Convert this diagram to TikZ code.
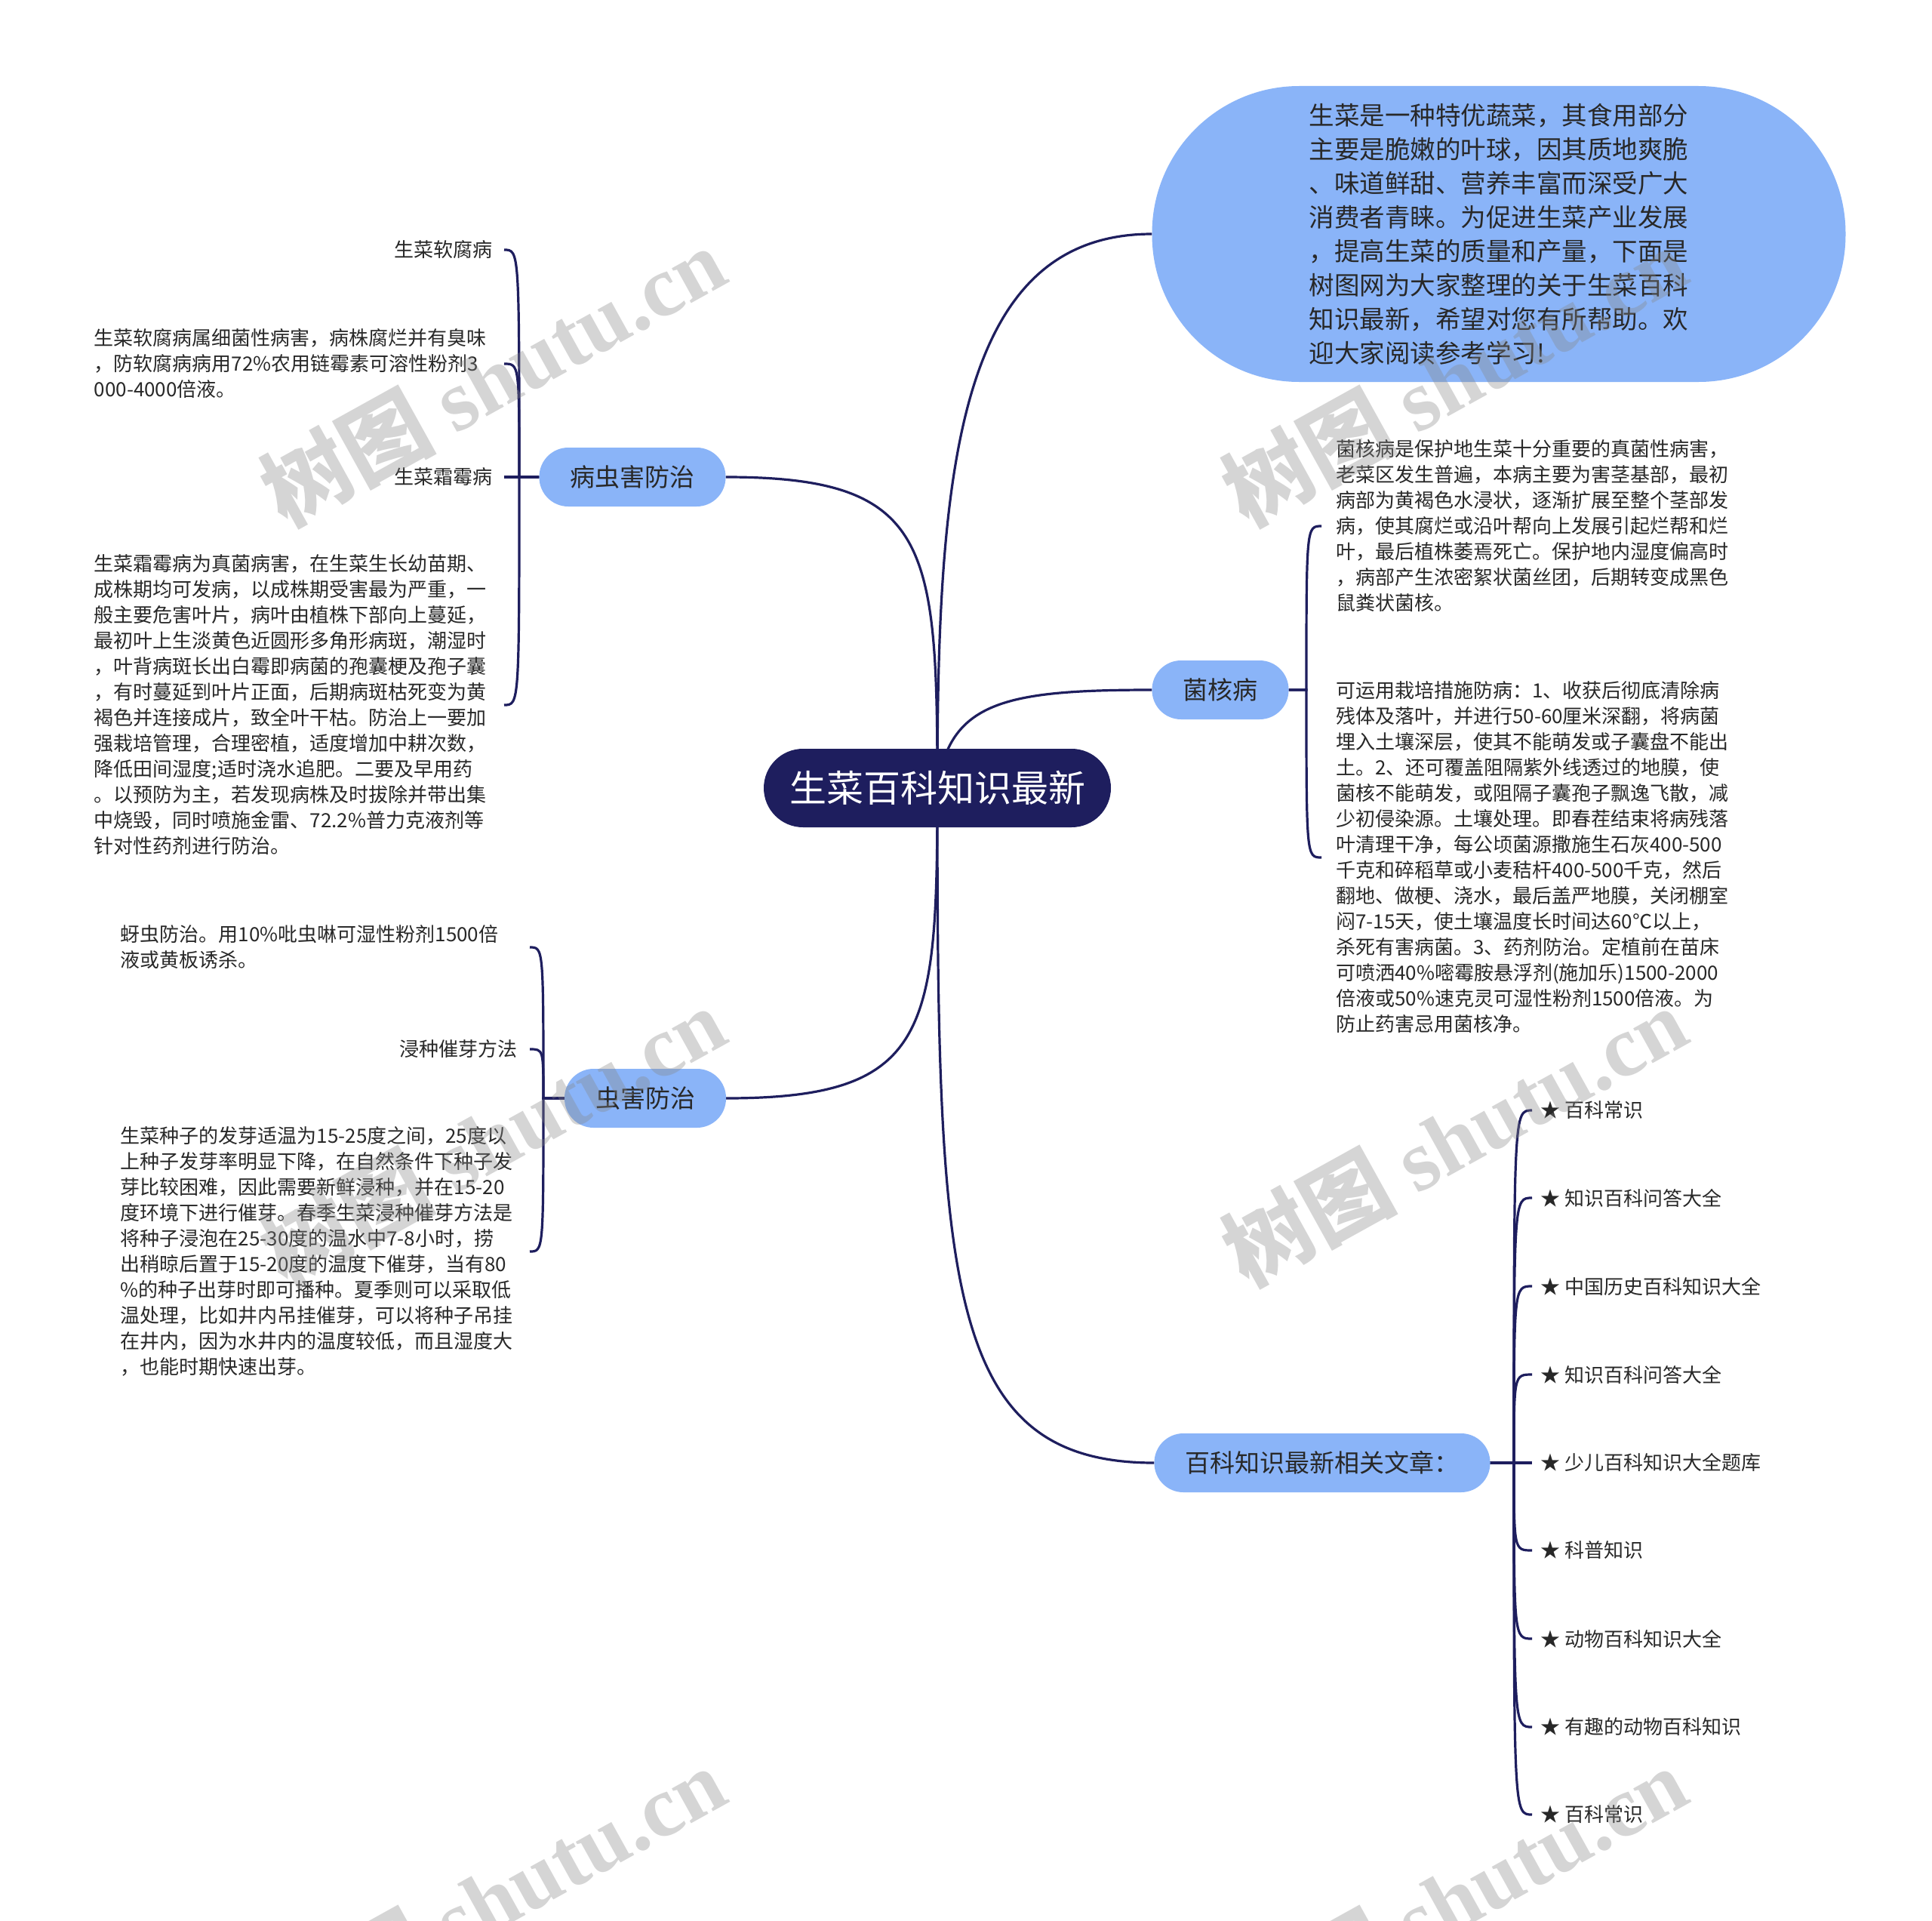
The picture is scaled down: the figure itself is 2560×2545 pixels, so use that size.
\documentclass[tikz,border=0pt]{standalone}
\usepackage{fontspec}
\setmainfont{Noto Sans CJK SC}
\newfontfamily\wmserif{Liberation Serif}
\usetikzlibrary{backgrounds}
\definecolor{navy}{RGB}{30,30,94}
\definecolor{lblue}{RGB}{138,180,248}
\definecolor{txt}{RGB}{40,40,40}
\definecolor{wm}{RGB}{135,135,135}
\tikzset{
  conn/.style={draw=navy, line width=3.2pt},
  mainnode/.style={fill=navy, text=white, rounded corners=52pt, minimum width=460pt, minimum height=104pt, font=\fontsize{49}{56}\selectfont},
  branch/.style={fill=lblue, text=txt, rounded corners=38.5pt, minimum height=78pt, inner xsep=41pt, font=\fontsize{33}{40}\selectfont},
  bignode/.style={fill=lblue, text=txt, rounded corners=195pt, minimum width=919pt, minimum height=392pt, align=left, font=\fontsize{33.5}{45}\selectfont},
  leaf/.style={text=txt, font=\fontsize{26}{34}\selectfont, align=left, inner ysep=4pt},
  lleaf/.style={leaf, anchor=east, inner xsep=15pt},
  lleafb/.style={leaf, anchor=east, inner xsep=16pt},
  rleaf/.style={leaf, anchor=west, inner xsep=19pt},
  item/.style={leaf, anchor=west, inner xsep=11pt},
  wmark/.style={text=wm, opacity=0.35, rotate=29, font=\fontsize{115}{120}\selectfont\bfseries}
}
\begin{document}
\begin{tikzpicture}[x=1pt,y=-1pt]
\begin{scope}[on background layer]
\fill[white] (0,0) rectangle (2560,2545);
\end{scope}
\useasboundingbox (0,0) rectangle (2560,2545);

% main and branch nodes
\node[mainnode] (c) at (1242,1044) {生菜百科知识最新};
\node[bignode] (b) at (1986,310) {生菜是一种特优蔬菜，其食用部分\\主要是脆嫩的叶球，因其质地爽脆\\、味道鲜甜、营养丰富而深受广大\\消费者青睐。为促进生菜产业发展\\，提高生菜的质量和产量，下面是\\树图网为大家整理的关于生菜百科\\知识最新，希望对您有所帮助。欢\\迎大家阅读参考学习!};
\node[branch] (bc) at (838,632) {病虫害防治};
\node[branch] (ch) at (855,1455) {虫害防治};
\node[branch] (j) at (1617,914) {菌核病};
\node[branch] (bk) at (1752,1938) {百科知识最新相关文章：};

\coordinate (j1) at (688,632);
\coordinate (j2) at (720,1455);
\coordinate (j3) at (1731,914);
\coordinate (j4) at (2006,1938);

% leaves of 病虫害防治
\node[lleaf] (c1) at (668,331) {生菜软腐病};
\node[lleaf, text width=528pt] (c2) at (668,482) {生菜软腐病属细菌性病害，病株腐烂并有臭味\\，防软腐病病用72\%农用链霉素可溶性粉剂3\\000-4000倍液。};
\node[lleaf] (c3) at (668,632) {生菜霜霉病};
\node[lleaf, text width=528pt] (c4) at (668,934) {生菜霜霉病为真菌病害，在生菜生长幼苗期、\\成株期均可发病，以成株期受害最为严重，一\\般主要危害叶片，病叶由植株下部向上蔓延，\\最初叶上生淡黄色近圆形多角形病斑，潮湿时\\，叶背病斑长出白霉即病菌的孢囊梗及孢子囊\\，有时蔓延到叶片正面，后期病斑枯死变为黄\\褐色并连接成片，致全叶干枯。防治上一要加\\强栽培管理，合理密植，适度增加中耕次数，\\降低田间湿度;适时浇水追肥。二要及早用药\\。以预防为主，若发现病株及时拔除并带出集\\中烧毁，同时喷施金雷、72.2\%普力克液剂等\\针对性药剂进行防治。};

% leaves of 虫害防治
\node[lleafb, text width=526pt] (d1) at (702,1255) {蚜虫防治。用10\%吡虫啉可湿性粉剂1500倍\\液或黄板诱杀。};
\node[lleafb] (d2) at (702,1390) {浸种催芽方法};
\node[lleafb, text width=526pt] (d3) at (702,1658) {生菜种子的发芽适温为15-25度之间，25度以\\上种子发芽率明显下降，在自然条件下种子发\\芽比较困难，因此需要新鲜浸种，并在15-20\\度环境下进行催芽。春季生菜浸种催芽方法是\\将种子浸泡在25-30度的温水中7-8小时，捞\\出稍晾后置于15-20度的温度下催芽，当有80\\\%的种子出芽时即可播种。夏季则可以采取低\\温处理，比如井内吊挂催芽，可以将种子吊挂\\在井内，因为水井内的温度较低，而且湿度大\\，也能时期快速出芽。};

% leaves of 菌核病
\node[rleaf, text width=524pt] (e1) at (1751,697) {菌核病是保护地生菜十分重要的真菌性病害，\\老菜区发生普遍，本病主要为害茎基部，最初\\病部为黄褐色水浸状，逐渐扩展至整个茎部发\\病，使其腐烂或沿叶帮向上发展引起烂帮和烂\\叶，最后植株萎焉死亡。保护地内湿度偏高时\\，病部产生浓密絮状菌丝团，后期转变成黑色\\鼠粪状菌核。};
\node[rleaf, text width=524pt] (e2) at (1751,1136) {可运用栽培措施防病：1、收获后彻底清除病\\残体及落叶，并进行50-60厘米深翻，将病菌\\埋入土壤深层，使其不能萌发或子囊盘不能出\\土。2、还可覆盖阻隔紫外线透过的地膜，使\\菌核不能萌发，或阻隔子囊孢子飘逸飞散，减\\少初侵染源。土壤处理。即春茬结束将病残落\\叶清理干净，每公顷菌源撒施生石灰400-500\\千克和碎稻草或小麦秸杆400-500千克，然后\\翻地、做梗、浇水，最后盖严地膜，关闭棚室\\闷7-15天，使土壤温度长时间达60℃以上，\\杀死有害病菌。3、药剂防治。定植前在苗床\\可喷洒40\%嘧霉胺悬浮剂(施加乐)1500-2000\\倍液或50\%速克灵可湿性粉剂1500倍液。为\\防止药害忌用菌核净。};

% items of 百科知识最新相关文章
\foreach \i/\y/\t in {1/1471/百科常识, 2/1587/知识百科问答大全, 3/1704/中国历史百科知识大全, 4/1821/知识百科问答大全, 5/1938/少儿百科知识大全题库, 6/2054/科普知识, 7/2171/动物百科知识大全, 8/2288/有趣的动物百科知识, 9/2404/百科常识}
  \node[item] (f\i) at (2030,\y) {★ \t};

% connectors
\begin{scope}[on background layer]
\draw[conn] (c.center) .. controls (1242,620) and (1270,310) .. (b.west);
\draw[conn] (c.center) .. controls (1242,720) and (1232,632) .. (bc.east);
\draw[conn] (c.center) .. controls (1258,930) and (1330,914) .. (j.west);
\draw[conn] (c.center) .. controls (1242,1368) and (1232,1455) .. (ch.east);
\draw[conn] (c.center) .. controls (1242,1700) and (1252,1938) .. (bk.west);
\foreach \n in {c1,c2,c3,c4}
  \draw[conn] (bc.west) -- (j1) .. controls (j1 |- \n.east) and (j1 |- \n.east) .. (\n.east);
\foreach \n in {d1,d2,d3}
  \draw[conn] (ch.west) -- (j2) .. controls (j2 |- \n.east) and (j2 |- \n.east) .. (\n.east);
\foreach \n in {e1,e2}
  \draw[conn] (j.east) -- (j3) .. controls (j3 |- \n.west) and (j3 |- \n.west) .. (\n.west);
\foreach \i in {1,...,9}
  \draw[conn] (bk.east) -- (j4) .. controls (j4 |- f\i.west) and (j4 |- f\i.west) .. (f\i.west);
\end{scope}

% watermarks
\node[wmark] (w1) at (653,498) {树图 {\wmserif\bfseries shutu.cn}};
\node[wmark] (w2) at (1927,498) {树图 {\wmserif\bfseries shutu.cn}};
\node[wmark] (w3) at (653,1505) {树图 {\wmserif\bfseries shutu.cn}};
\node[wmark] (w4) at (1927,1505) {树图 {\wmserif\bfseries shutu.cn}};
\node[wmark] (w5) at (653,2512) {树图 {\wmserif\bfseries shutu.cn}};
\node[wmark] (w6) at (1927,2512) {树图 {\wmserif\bfseries shutu.cn}};
\end{tikzpicture}
\end{document}
